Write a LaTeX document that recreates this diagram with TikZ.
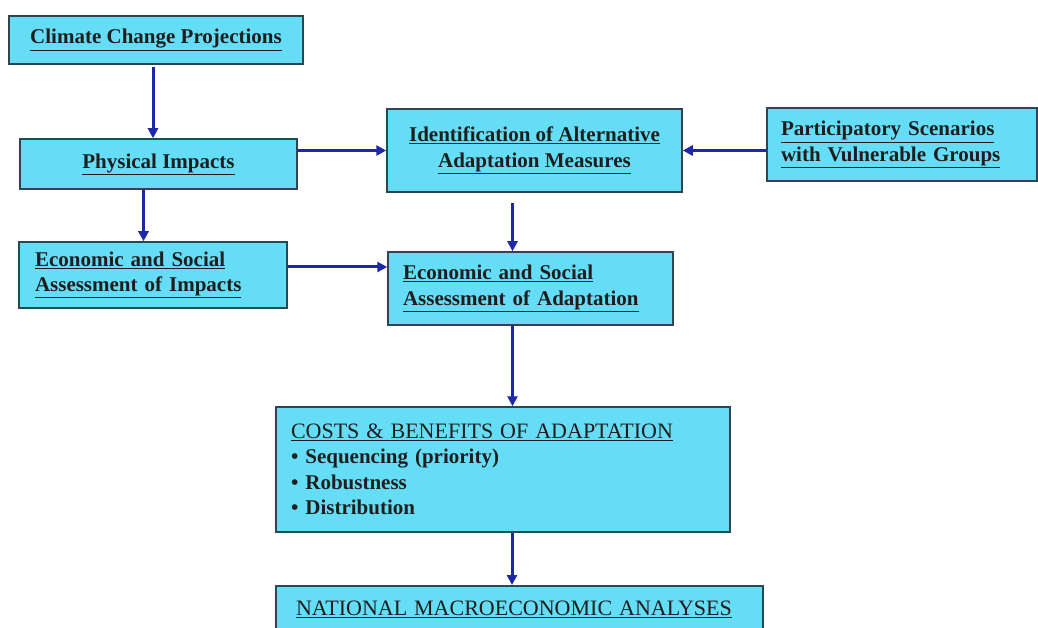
\documentclass[tikz,border=0pt]{standalone}
\usepackage{fontspec}
\setmainfont{Liberation Serif}
\usetikzlibrary{arrows.meta,positioning}

\definecolor{boxfill}{RGB}{102,221,246}
\definecolor{boxline}{RGB}{45,70,80}
\definecolor{linkblue}{RGB}{28,40,168}
\definecolor{boxtext}{RGB}{30,30,30}

\newcommand{\capstitle}[1]{{\fontsize{22}{25.5}\selectfont\mdseries\underline{#1}}}

\begin{document}
\begin{tikzpicture}[x=1pt,y=-1pt,>={Triangle[length=10pt,width=10pt]},
    box/.style={draw=boxline,line width=1.5pt,fill=boxfill,text=boxtext,
        font=\fontsize{21}{25.5}\selectfont\bfseries,inner sep=0pt},
    lbox/.style={box,align=left,inner xsep=#1},
    link/.style={draw=linkblue,line width=3pt}]
    \useasboundingbox (0,0) rectangle (1038,628);
    \node[box,minimum width=294pt,minimum height=48pt] (proj) at (156,40) {\underline{Climate Change Projections}};
    \node[box,minimum width=277pt,minimum height=50pt] (phys) at (158.5,164) {\underline{Physical Impacts}};
    \node[box,align=center,minimum width=295pt,minimum height=83pt] (ident) at (534.5,150.5)
        {\underline{Identification of Alternative}\\\underline{Adaptation Measures}};
    \node[lbox=14pt,text width=242pt,minimum height=73pt] (partic) at (902,144.5)
        {\underline{Participatory Scenarios}\\\underline{with Vulnerable Groups}};
    \node[lbox=16pt,text width=236pt,minimum height=66pt] (esimp) at (153,275)
        {\underline{Economic and Social}\\\underline{Assessment of Impacts}};
    \node[lbox=15pt,text width=255pt,minimum height=73pt] (esadapt) at (530.5,288.5)
        {\underline{Economic and Social}\\\underline{Assessment of Adaptation}};
    \node[lbox=15pt,text width=424pt,minimum height=125pt] (costs) at (503,469.5)
        {\capstitle{COSTS \& BENEFITS OF ADAPTATION}\\
         \textbullet\ Sequencing (priority)\\
         \textbullet\ Robustness\\
         \textbullet\ Distribution};
    \node[lbox=20pt,text width=447pt,inner ysep=15pt,anchor=north] (macro) at (519.5,585)
        {\capstitle{NATIONAL MACROECONOMIC ANALYSES}\\ \strut};

    \path[->]
        ([xshift=-3pt,yshift=-2pt]proj.south) edge[link] ([xshift=-3pt]proj.south |- phys.north)
        (phys.east |- ident.west) edge[link] (ident.west)
        (ident.east -| partic.west) edge[link] (ident.east)
        ([xshift=-15pt]phys.south) edge[link] ([xshift=-15pt]phys.south |- esimp.north)
        ([yshift=8pt]esimp.east) edge[link] ([yshift=8pt]esimp.east -| esadapt.west)
        ([xshift=-22pt,yshift=-10pt]ident.south) edge[link] ([xshift=-22pt]ident.south |- esadapt.north)
        ([xshift=-18pt]esadapt.south) edge[link] ([xshift=-18pt]esadapt.south |- costs.north)
        ([xshift=9pt]costs.south) edge[link] ([xshift=9pt]costs.south |- macro.north);
\end{tikzpicture}
\end{document}
